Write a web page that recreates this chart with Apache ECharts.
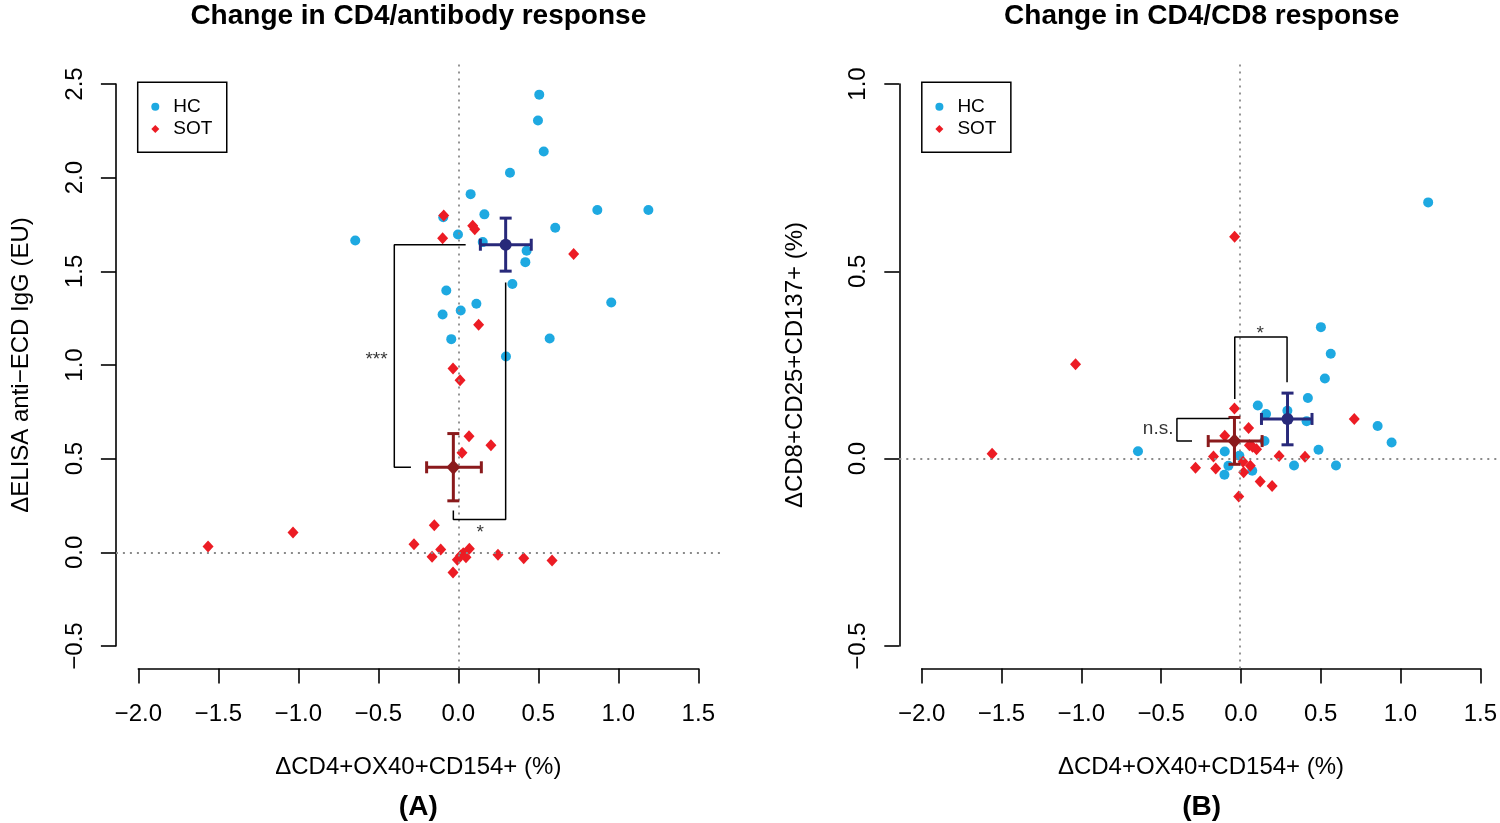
<!DOCTYPE html>
<html>
<head>
<meta charset="utf-8">
<script src="https://cdn.jsdelivr.net/npm/echarts@6/dist/echarts.min.js"></script>
<style>
  html, body { margin: 0; padding: 0; background: #fff; }
  #chart { width: 1500px; height: 823px; }
</style>
</head>
<body>
<div id="chart"></div>
<script>
// ---------------- DATA ----------------
// Panel A: x = ΔCD4+OX40+CD154+ (%), y = ΔELISA anti-ECD IgG (EU)
const hcA_x = [0.506, 0.498, 0.534, 0.323, 0.077, 0.869, 1.188, 0.163, -0.094, 0.606, -0.002, 0.153, 0.427, 0.419, 0.338, -0.075, 0.956, 0.113, 0.015, -0.098, -0.044, 0.571, 0.298, -0.644];
const hcA_y = [2.443, 2.305, 2.140, 2.026, 1.912, 1.827, 1.827, 1.804, 1.789, 1.733, 1.697, 1.656, 1.610, 1.549, 1.432, 1.398, 1.334, 1.327, 1.291, 1.270, 1.138, 1.141, 1.045, 1.665];
const sotA_x = [-0.091, 0.090, 0.103, -0.098, 0.721, 0.127, -0.033, 0.011, 0.067, 0.204, 0.023, -0.150, -1.033, -1.564, -0.277, -0.110, -0.164, 0.069, 0.031, 0.015, 0.048, -0.006, 0.248, 0.409, 0.586, -0.033];
const sotA_y = [1.798, 1.743, 1.725, 1.677, 1.592, 1.215, 0.981, 0.919, 0.620, 0.572, 0.531, 0.145, 0.106, 0.031, 0.043, 0.015, -0.024, 0.019, -0.005, -0.017, -0.026, -0.040, -0.013, -0.031, -0.044, -0.108];

// Panel B: x = ΔCD4+OX40+CD154+ (%), y = ΔCD8+CD25+CD137+ (%)
const hcB_x = [0.513, 0.575, 0.538, 0.431, 0.116, 0.168, 0.302, 0.423, 0.870, 0.958, 0.158, 0.498, -0.638, -0.092, 0.000, -0.069, 0.344, 0.608, -0.094, 0.081, 1.188];
const hcB_y = [0.351, 0.280, 0.214, 0.162, 0.142, 0.119, 0.128, 0.100, 0.087, 0.043, 0.047, 0.024, 0.020, 0.019, 0.008, -0.019, -0.018, -0.018, -0.043, -0.032, 0.684];
const sotB_x = [-0.031, 0.058, -0.092, 0.063, 0.108, 0.083, -0.163, 0.250, 0.413, 0.723, -0.276, -0.149, 0.023, 0.069, 0.027, 0.131, 0.206, -0.004, -0.030, -1.031, -1.556];
const sotB_y = [0.134, 0.082, 0.061, 0.036, 0.025, 0.032, 0.006, 0.007, 0.005, 0.106, -0.024, -0.026, -0.008, -0.019, -0.036, -0.061, -0.073, -0.101, 0.592, 0.252, 0.013];

// Group means with error bars: [x, y, xLow, xHigh, yLow, yHigh]
const meanA_HC  = [0.296, 1.642, 0.138, 0.456, 1.501, 1.784];
const meanA_SOT = [-0.031, 0.454, -0.198, 0.144, 0.275, 0.634];
const meanB_HC  = [0.303, 0.106, 0.139, 0.457, 0.037, 0.175];
const meanB_SOT = [-0.031, 0.047, -0.196, 0.143, -0.015, 0.110];

// Significance brackets (data coordinates) and their labels
const bracketA1 = [[0.046, 1.642], [-0.400, 1.642], [-0.400, 0.454], [-0.296, 0.454]];
const bracketA2 = [[0.296, 1.440], [0.296, 0.175], [-0.031, 0.175], [-0.031, 0.223]];
const bracketB1 = [[-0.029, 0.159], [-0.029, 0.325], [0.300, 0.325], [0.300, 0.204]];
const bracketB2 = [[-0.062, 0.107], [-0.393, 0.107], [-0.393, 0.047], [-0.298, 0.047]];
const labelsA = [[-0.511, 1.048, '***'], [0.1375, 0.124, '*']];
const labelsB = [[0.131, 0.345, '*'], [-0.511, 0.081, 'n.s.']];

// Axis ticks
const xTickMin = -2.0, xTickMax = 1.5, xTickStep = 0.5;
const yTickA = { min: -0.5, max: 2.5, step: 0.5 };
const yTickB = { min: -0.5, max: 1.0, step: 0.5 };

const titleA = 'Change in CD4/antibody response';
const titleB = 'Change in CD4/CD8 response';
const xTitle = 'ΔCD4+OX40+CD154+ (%)';
const yTitleA = 'ΔELISA anti−ECD IgG (EU)';
const yTitleB = 'ΔCD8+CD25+CD137+ (%)';

// ---------------- STYLE ----------------
const FONT = 'Liberation Sans, Arial, Helvetica, sans-serif';
const C_HC = '#1ea9e1', C_SOT = '#ec1c24', C_HCM = '#28297a', C_SOTM = '#8a1a1c';
const zip = (xs, ys) => xs.map((x, i) => [x, ys[i]]);
const fmt = v => v.toFixed(1).replace('-', '−');

const chart = echarts.init(document.getElementById('chart'), null, { renderer: 'canvas' });

// plot region geometry (R style: axes range extended 4%)
const PA = { left: 115.9, top: 61.5, width: 604.8, height: 607 };
const PB = { left: 899.3, top: 61.5, width: 604.8, height: 607 };
const extX = (xTickMax - xTickMin) * 0.04;

function panelGrids(P, yt) {
  const extY = (yt.max - yt.min) * 0.04;
  const pxPerX = P.width / (xTickMax - xTickMin + 2 * extX);
  const pxPerY = P.height / (yt.max - yt.min + 2 * extY);
  return [
    { left: P.left, top: P.top, width: P.width, height: P.height },
    { left: P.left + extX * pxPerX, top: P.top, width: (xTickMax - xTickMin) * pxPerX, height: P.height },
    { left: P.left, top: P.top + extY * pxPerY, width: P.width, height: (yt.max - yt.min) * pxPerY }
  ];
}
const grids = [...panelGrids(PA, yTickA), ...panelGrids(PB, yTickB)];

const axisLineStyle = { color: '#000', width: 1.6 };
function dataAxes(yt, gi) {
  const extY = (yt.max - yt.min) * 0.04;
  return {
    x: { type: 'value', gridIndex: gi, show: false, min: xTickMin - extX, max: xTickMax + extX },
    y: { type: 'value', gridIndex: gi, show: false, min: yt.min - extY, max: yt.max + extY }
  };
}
function xDisplayAxis(gi) {
  return {
    type: 'value', gridIndex: gi, position: 'bottom',
    min: xTickMin, max: xTickMax, interval: xTickStep,
    axisLine: { show: true, onZero: false, lineStyle: axisLineStyle },
    axisTick: { show: true, length: 15, lineStyle: axisLineStyle },
    axisLabel: { show: true, margin: 33.5, fontSize: 24, lineHeight: 24, color: '#000', fontFamily: FONT, formatter: fmt, showMinLabel: true, showMaxLabel: true },
    splitLine: { show: false },
    name: xTitle, nameLocation: 'middle', nameGap: 86.5,
    nameTextStyle: { fontSize: 24, lineHeight: 24, color: '#000', fontFamily: FONT }
  };
}
function yDisplayAxis(gi, yt, name, gap) {
  return {
    type: 'value', gridIndex: gi, position: 'left',
    min: yt.min, max: yt.max, interval: yt.step,
    axisLine: { show: true, onZero: false, lineStyle: axisLineStyle },
    axisTick: { show: true, length: 15, lineStyle: axisLineStyle },
    axisLabel: { show: true, rotate: 90, margin: 29, fontSize: 24, lineHeight: 24, color: '#000', fontFamily: FONT, formatter: fmt, showMinLabel: true, showMaxLabel: true },
    splitLine: { show: false },
    name: name, nameLocation: 'middle', nameRotate: 90, nameGap: gap,
    nameTextStyle: { fontSize: 24, lineHeight: 24, color: '#000', fontFamily: FONT }
  };
}
const hidden = gi => ({ type: 'value', gridIndex: gi, show: false, min: 0, max: 1 });

const dA = dataAxes(yTickA, 0), dB = dataAxes(yTickB, 3);
const xAxes = [dA.x, xDisplayAxis(1), hidden(2), dB.x, xDisplayAxis(4), hidden(5)];
const yAxes = [dA.y, hidden(1), yDisplayAxis(2, yTickA, yTitleA, 83), dB.y, hidden(4), yDisplayAxis(5, yTickB, yTitleB, 92)];

function errRender(params, api) {
  const x = api.value(0), y = api.value(1);
  const c = api.coord([x, y]);
  const l = api.coord([api.value(2), y]);
  const r = api.coord([api.value(3), y]);
  const b = api.coord([x, api.value(4)]);
  const t = api.coord([x, api.value(5)]);
  const cap = 6;
  const style = { stroke: api.visual('color'), lineWidth: 3, fill: null };
  const ln = (x1, y1, x2, y2) => ({ type: 'line', shape: { x1, y1, x2, y2 }, style });
  return {
    type: 'group', children: [
      ln(l[0], c[1], r[0], c[1]),
      ln(l[0], c[1] - cap, l[0], c[1] + cap),
      ln(r[0], c[1] - cap, r[0], c[1] + cap),
      ln(c[0], b[1], c[0], t[1]),
      ln(c[0] - cap, b[1], c[0] + cap, b[1]),
      ln(c[0] - cap, t[1], c[0] + cap, t[1])
    ]
  };
}

function panelSeries(ai, hc, sot, mHC, mSOT, brackets, labels) {
  const s = [];
  s.push({
    type: 'scatter', name: 'HC', xAxisIndex: ai, yAxisIndex: ai, data: hc,
    symbol: 'circle', symbolSize: 10, itemStyle: { color: C_HC, opacity: 1 }, z: 3, silent: true,
    markLine: {
      silent: true, symbol: 'none', label: { show: false }, animation: false,
      lineStyle: { color: '#8a8a8a', width: 1.8, type: [2, 5] },
      data: [{ xAxis: 0 }, { yAxis: 0 }]
    }
  });
  s.push({
    type: 'scatter', name: 'SOT', xAxisIndex: ai, yAxisIndex: ai, data: sot,
    symbol: 'diamond', symbolSize: [11, 12], itemStyle: { color: C_SOT, opacity: 1 }, z: 4, silent: true
  });
  [[mHC, C_HCM, 'circle', 12], [mSOT, C_SOTM, 'diamond', [14, 15]]].forEach(([m, col, sym, sz]) => {
    s.push({
      type: 'custom', name: 'err', xAxisIndex: ai, yAxisIndex: ai, data: [m],
      encode: { x: 0, y: 1 }, renderItem: errRender, itemStyle: { color: col }, z: 5, silent: true
    });
    s.push({
      type: 'scatter', name: 'mean', xAxisIndex: ai, yAxisIndex: ai, data: [[m[0], m[1]]],
      symbol: sym, symbolSize: sz, itemStyle: { color: col, opacity: 1 }, z: 6, silent: true
    });
  });
  brackets.forEach(b => s.push({
    type: 'line', name: 'bracket', xAxisIndex: ai, yAxisIndex: ai, data: b,
    symbol: 'none', showSymbol: false, lineStyle: { color: '#000', width: 1.5 }, z: 7, silent: true
  }));
  s.push({
    type: 'scatter', name: 'sig', xAxisIndex: ai, yAxisIndex: ai,
    data: labels.map(d => ({ value: d, label: { offset: d[2].indexOf('*') >= 0 ? [0, 4] : [0, 0] } })),
    symbolSize: 0, z: 8, silent: true,
    label: {
      show: true, position: 'inside', color: '#000', fontFamily: FONT, fontSize: 19,
      formatter: p => p.value[2]
    }
  });
  return s;
}

const series = [
  ...panelSeries(0, zip(hcA_x, hcA_y), zip(sotA_x, sotA_y), meanA_HC, meanA_SOT, [bracketA1, bracketA2], labelsA),
  ...panelSeries(3, zip(hcB_x, hcB_y), zip(sotB_x, sotB_y), meanB_HC, meanB_SOT, [bracketB1, bracketB2], labelsB)
];

function legendAt(left) {
  return {
    orient: 'vertical', left: left, top: 82.3,
    data: [{ name: 'HC', icon: 'circle' }, { name: 'SOT', icon: 'diamond' }],
    itemWidth: 8, itemHeight: 8, itemGap: 2.3,
    padding: [14.4, 14.4, 13.3, 13.6],
    borderColor: '#000', borderWidth: 1.5, borderRadius: 0,
    selectedMode: false,
    textStyle: { fontSize: 19, lineHeight: 20, color: '#000', fontFamily: FONT, padding: [0, 0, 0, 9] }
  };
}

const txt = (text, x, y, size, bold) => ({
  type: 'text', x: x, y: y, silent: true,
  style: { text: text, align: 'center', verticalAlign: 'middle', fill: '#000',
           font: (bold ? 'bold ' : '') + size + 'px ' + FONT }
});

chart.setOption({
  animation: false,
  backgroundColor: '#fff',
  textStyle: { fontFamily: FONT },
  grid: grids,
  xAxis: xAxes,
  yAxis: yAxes,
  legend: [legendAt(137.7), legendAt(921.8)],
  series: series,
  graphic: [
    txt(titleA, PA.left + PA.width / 2, 16, 28, true),
    txt(titleB, PB.left + PB.width / 2, 16, 28, true),
    txt('(A)', PA.left + PA.width / 2, 807.5, 28, true),
    txt('(B)', PB.left + PB.width / 2, 807.5, 28, true)
  ]
});
</script>
</body>
</html>
